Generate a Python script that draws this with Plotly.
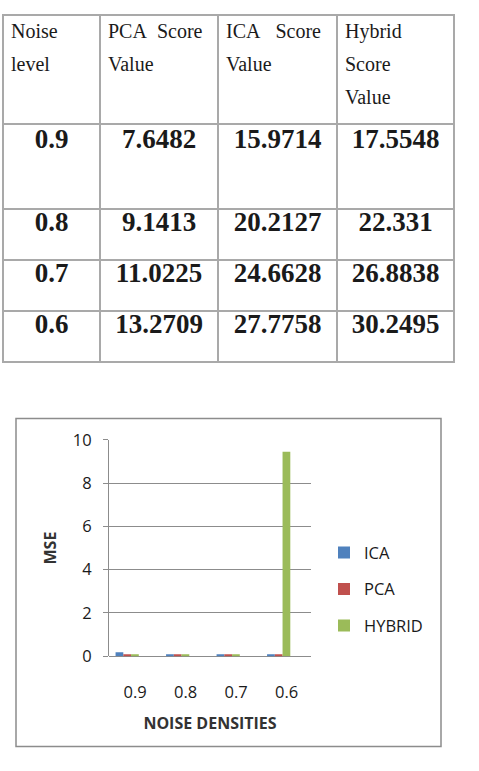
import plotly.graph_objects as go

# ---------------- data ----------------
noise_levels = ["0.9", "0.8", "0.7", "0.6"]
pca_scores = ["7.6482", "9.1413", "11.0225", "13.2709"]
ica_scores = ["15.9714", "20.2127", "24.6628", "27.7758"]
hybrid_scores = ["17.5548", "22.331", "26.8838", "30.2495"]

categories = ["0.9", "0.8", "0.7", "0.6"]
ica_mse = [0.18, 0.09, 0.09, 0.09]
pca_mse = [0.09, 0.09, 0.09, 0.09]
hybrid_mse = [0.09, 0.09, 0.09, 9.45]
y_ticks = [0, 2, 4, 6, 8, 10]

W, H = 479, 771
NB = "\u00a0"
CLEAR = "rgba(0,0,0,0)"


def tall(px):
    # blank second line that makes the first data row taller
    return "<br><span style='font-size:%dpx'>%s</span>" % (px, NB)


def hdr(lines):
    return "<br>".join("<span style='font-size:20px'>%s</span>" % l for l in lines)


header_vals = [
    hdr(["Noise", "level"]),
    hdr(["PCA" + NB * 2 + "Score", "Value"]),
    hdr(["ICA" + NB * 3 + "Score", "Value"]),
    hdr(["Hybrid", "Score", "Value"]),
]


def cell(col):
    return ["<b>%s</b>" % v + (tall(37) if i == 0 else "") for i, v in enumerate(col)]


def blank(col):
    return [("<span style='font-size:27px'>%s</span>" % NB + tall(46)) if i == 0 else "" for i, _ in enumerate(col)]


columns = [noise_levels, pca_scores, ica_scores, hybrid_scores]
col_widths = [97, 118, 119, 117]

fig = go.Figure()

# table grid
fig.add_trace(go.Table(
    domain=dict(x=[3 / W, 454 / W], y=[0.5, 1 - 3 / H]),
    columnwidth=col_widths,
    header=dict(
        values=[NB] * 4, align="left", height=109,
        font=dict(family="Liberation Serif", size=27, color="#1a1a1a"),
        fill_color="white", line=dict(color="#a9a9a9", width=2),
    ),
    cells=dict(
        values=[blank(c) for c in columns], align="center", height=51,
        font=dict(family="Liberation Serif", size=27, color="#1a1a1a"),
        fill_color="white", line=dict(color="#a9a9a9", width=2),
    ),
))

# table text (same rows, nudged slightly upward inside the grid)
fig.add_trace(go.Table(
    domain=dict(x=[3 / W, 454 / W], y=[0.5, 1]),
    columnwidth=col_widths,
    header=dict(
        values=header_vals, align="left", height=104,
        font=dict(family="Liberation Serif", size=25.4, color="#1a1a1a"),
        fill_color=CLEAR, line=dict(color=CLEAR, width=2),
    ),
    cells=dict(
        values=[cell(c) for c in columns], align="center", height=51,
        font=dict(family="Liberation Serif", size=27, color="#1a1a1a"),
        fill_color=CLEAR, line=dict(color=CLEAR, width=2),
    ),
))

colors = {"ICA": "#4F81BD", "PCA": "#C0504D", "HYBRID": "#9BBB59"}
for name, vals in [("ICA", ica_mse), ("PCA", pca_mse), ("HYBRID", hybrid_mse)]:
    fig.add_trace(go.Bar(
        x=categories, y=vals, name=name, legendgroup=name,
        marker=dict(color=colors[name], line=dict(width=0)),
    ))

axis_font = dict(family="Open Sans", size=16.5, color="#1a1a1a")
title_font = dict(family="Open Sans", size=16, color="#333333")

fig.update_layout(
    width=W, height=H,
    margin=dict(l=0, r=0, t=0, b=0),
    paper_bgcolor="white", plot_bgcolor="white",
    barmode="group", bargap=0.54, bargroupgap=0,
    showlegend=True,
    legend=dict(
        x=324 / W, y=1 - 595 / H, xanchor="left", yanchor="middle",
        font=dict(family="Open Sans", size=16.5, color="#1a1a1a"),
        tracegroupgap=12, bgcolor=CLEAR,
    ),
    xaxis=dict(
        domain=[109 / W, 311 / W],
        type="category",
        range=[-0.36, 3.64],
        showgrid=False, showline=False, zeroline=False,
        ticks="", tickfont=axis_font, ticklabelshift=8, ticklabelstandoff=24,
        title=dict(text="<b>NOISE DENSITIES</b>", font=title_font, standoff=16),
    ),
    yaxis=dict(
        domain=[1 - 664 / H, 1 - 441 / H],
        range=[0, 10],
        tickvals=y_ticks,
        showgrid=True, gridcolor="#8c8c8c", gridwidth=1,
        showline=True, linecolor="#8c8c8c", linewidth=1,
        zeroline=True, zerolinecolor="#8c8c8c", zerolinewidth=1,
        ticks="outside", ticklen=5, tickcolor="#8c8c8c",
        tickfont=axis_font, ticklabelstandoff=8,
        title=dict(text="<b>MSE</b>", font=title_font, standoff=12),
    ),
    shapes=[dict(
        type="rect", xref="paper", yref="paper",
        x0=16 / W, x1=441 / W, y0=1 - 757 / H, y1=1 - 419 / H,
        line=dict(color="#8c8c8c", width=1.5), layer="below",
    )],
)

fig.write_html("out.html")
